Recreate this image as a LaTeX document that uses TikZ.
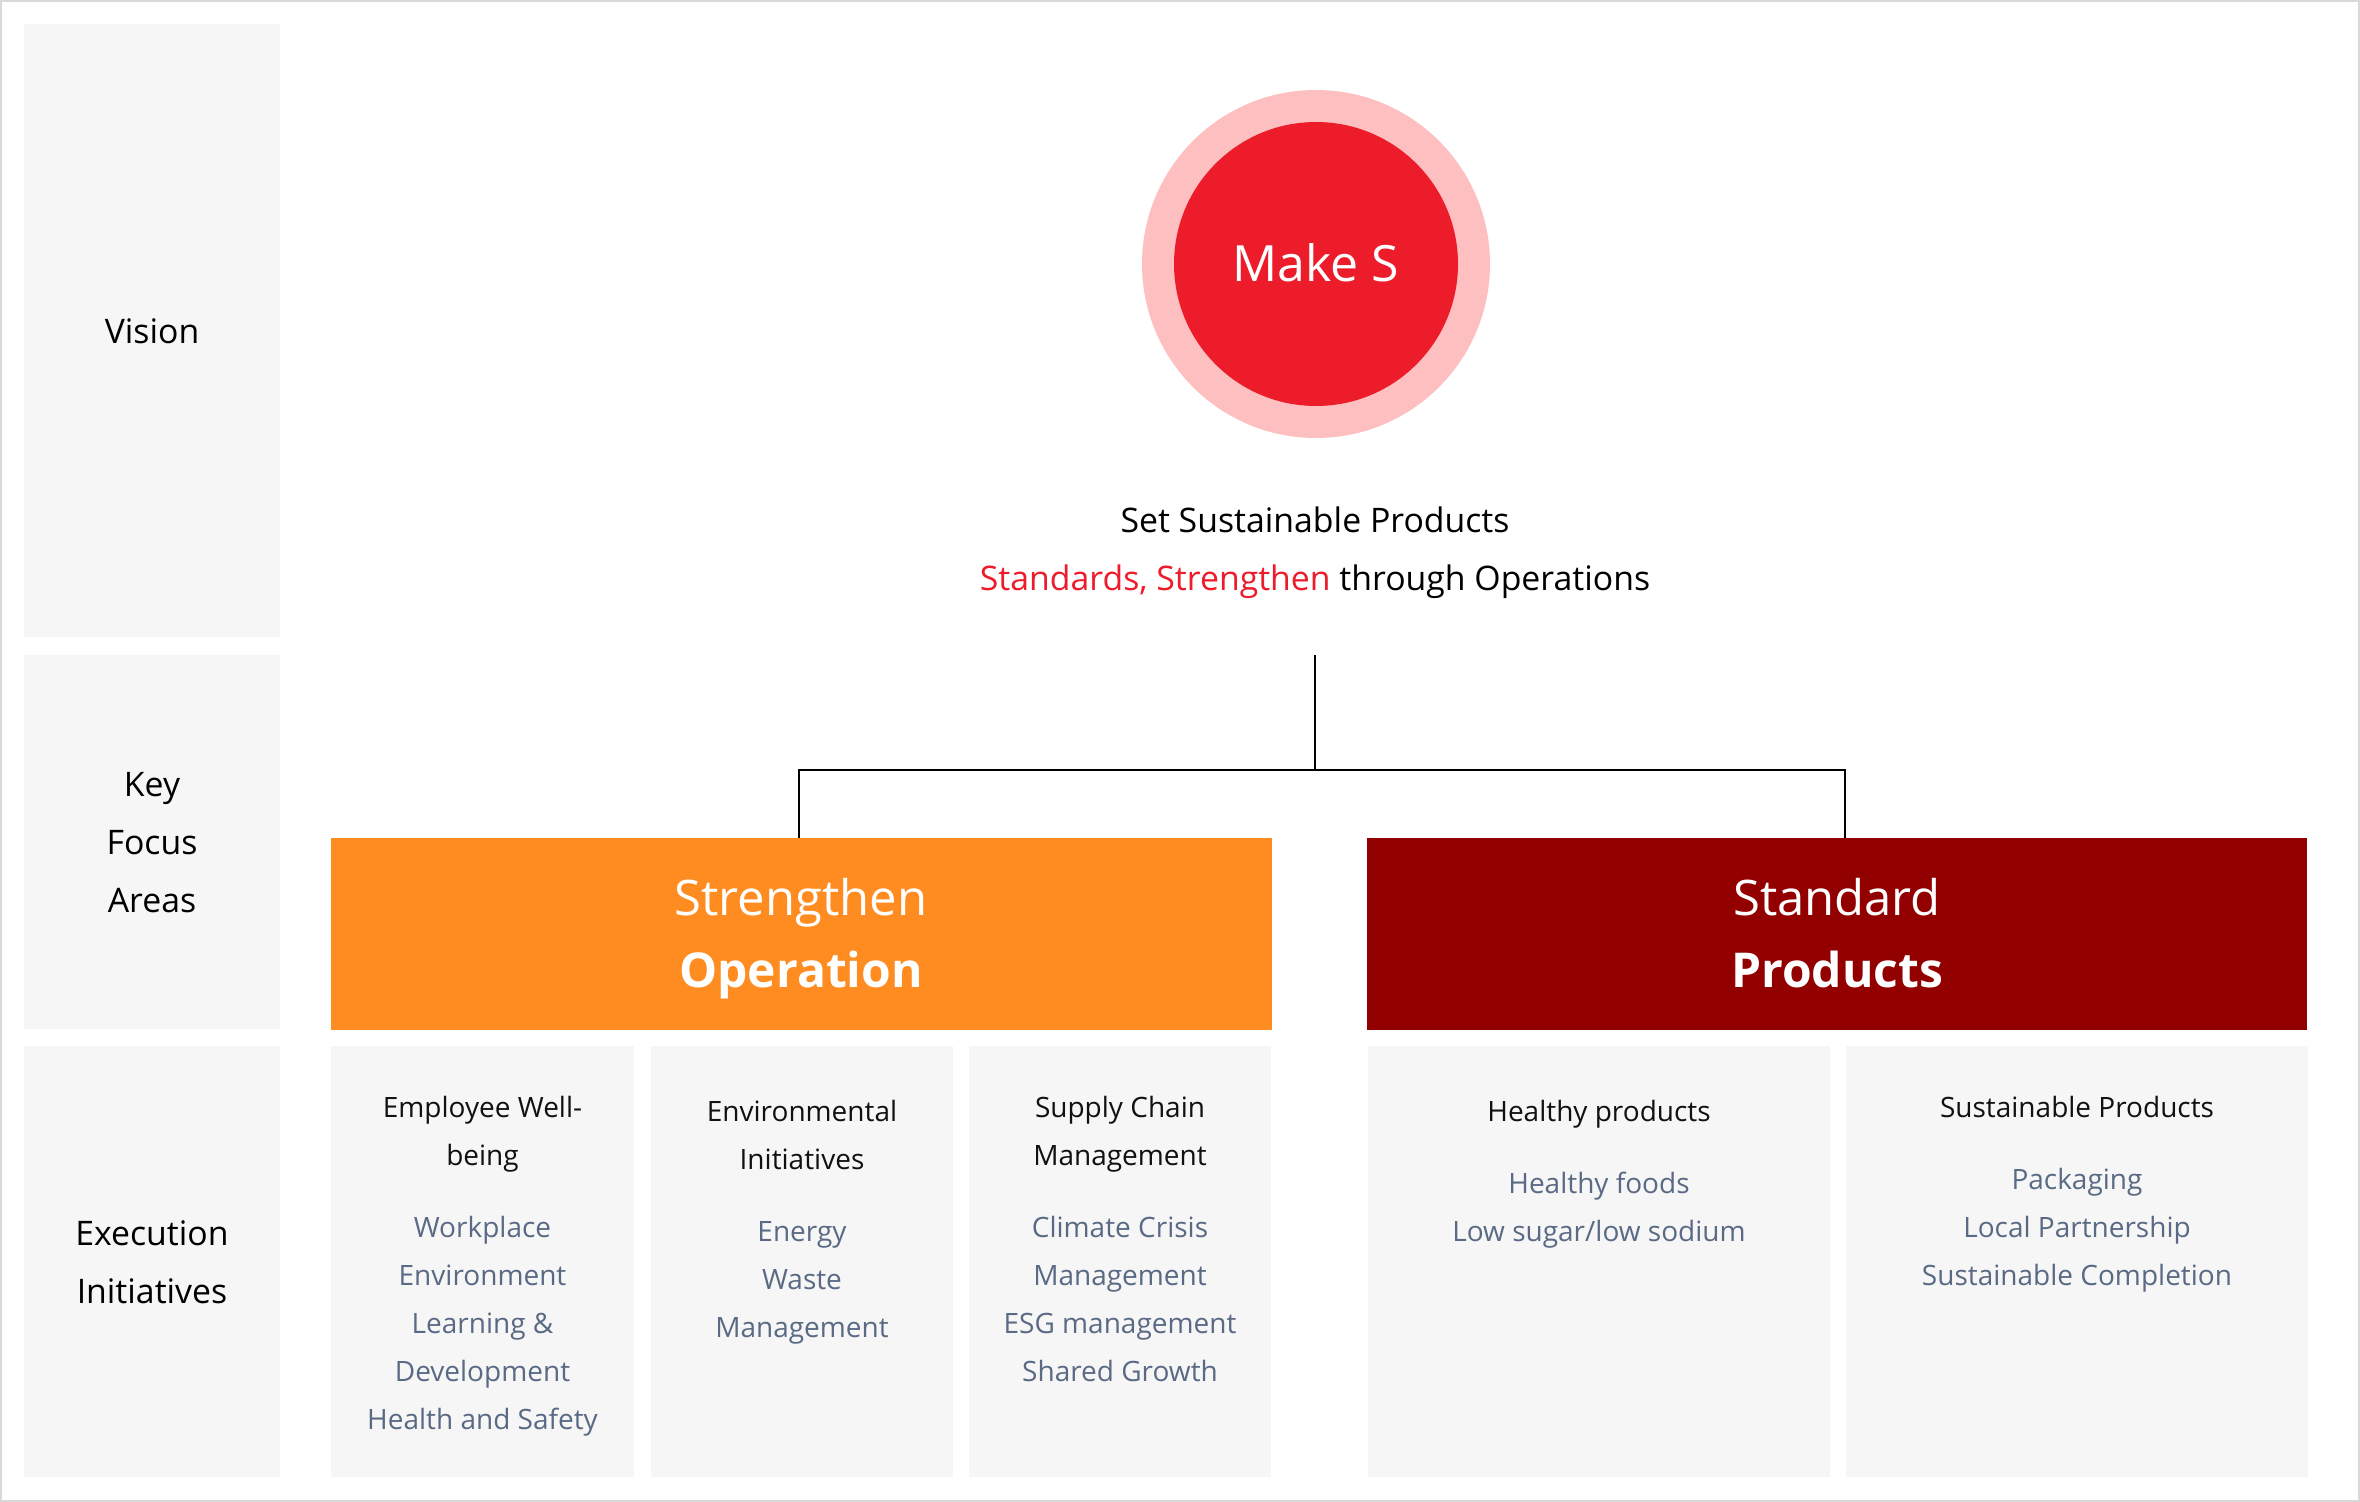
\documentclass[tikz,border=0pt]{standalone}
\usepackage{fontspec}
\setmainfont{Open Sans}
\definecolor{panelc}{HTML}{F6F6F6}
\definecolor{framec}{HTML}{D9D9D9}
\definecolor{orangec}{HTML}{FF8C21}
\definecolor{darkredc}{HTML}{920000}
\definecolor{redc}{HTML}{ED1C2B}
\definecolor{pinkc}{HTML}{FDBFBF}
\definecolor{itemc}{HTML}{5A6A85}
\definecolor{titlec}{HTML}{111111}
\begin{document}
\begin{tikzpicture}[x=0.5pt,y=-0.5pt,
  panel/.style={fill=panelc,draw=none,anchor=north west,inner sep=0},
  lbl/.style={anchor=base,inner sep=0,text=black,font=\fontsize{16.9}{20}\selectfont},
  vtxt/.style={anchor=base,inner sep=0,text=black,font=\fontsize{16.9}{20}\selectfont},
  head/.style={anchor=north west,inner sep=0,draw=none},
  hthin/.style={anchor=base,inner sep=0,text=white,font=\fontsize{24.5}{28}\selectfont},
  hbold/.style={anchor=base,inner sep=0,text=white,font=\fontsize{24}{28}\selectfont\bfseries},
  ttl/.style={anchor=base,inner sep=0,text=titlec,font=\fontsize{14}{17}\selectfont},
  itm/.style={anchor=base,inner sep=0,text=itemc,font=\fontsize{14}{17}\selectfont},
  conn/.style={draw=black,line width=1pt}]
\useasboundingbox (0,0) rectangle (2360,1502);
\fill[white] (0,0) rectangle (2360,1502);
\draw[framec,line width=1pt] (1,1) rectangle (2359,1501);

% left row labels
\node[panel,minimum width=128pt,minimum height=306.5pt] (pv) at (24,24) {};
\node[panel,minimum width=128pt,minimum height=187pt] (pk) at (24,655) {};
\node[panel,minimum width=128pt,minimum height=215.5pt] (pe) at (24,1046) {};
\node[lbl] (lv) at (152,344) {Vision};
\node[lbl] (lk1) at (152,796) {Key};
\node[lbl] (lk2) at (152,854) {Focus};
\node[lbl] (lk3) at (152,912) {Areas};
\node[lbl] (le1) at (152,1245) {Execution};
\node[lbl] (le2) at (152,1303) {Initiatives};

% vision circle
\node[circle,fill=pinkc,minimum size=174pt,inner sep=0] (outer) at (1316,264) {};
\node[circle,fill=redc,minimum size=142pt,inner sep=0] (inner) at (1316,264) {};
\node[anchor=base,inner sep=0,text=white,font=\fontsize{25}{30}\selectfont] (mk) at (1316,282) {Make S};
\node[vtxt] (v1) at (1315,533) {Set Sustainable Products};
\node[vtxt] (v2) at (1315,590) {\textcolor{redc}{Standards, Strengthen} through Operations};

% key focus areas
\node[head,fill=orangec,minimum width=470.5pt,minimum height=96pt] (sop) at (331,838) {};
\node[head,fill=darkredc,minimum width=470pt,minimum height=96pt] (spr) at (1367,838) {};
\node[hthin] (so1) at (801,915) {Strengthen};
\node[hbold] (so2) at (801,987) {Operation};
\node[hthin] (sp1) at (1837,915) {Standard};
\node[hbold] (sp2) at (1837,987) {Products};

% connectors
\coordinate (top) at (1315,655);
\coordinate (junc) at (1315,770);
\draw[conn] (top) -- (junc);
\draw[conn] ([xshift=-1.5pt]sop.north) |- (junc) -| ([xshift=4pt]spr.north);

% execution initiatives panels
\node[panel,minimum width=151.5pt,minimum height=215.5pt] (b1) at (331,1046) {};
\node[panel,minimum width=151pt,minimum height=215.5pt] (b2) at (651,1046) {};
\node[panel,minimum width=151pt,minimum height=215.5pt] (b3) at (969,1046) {};
\node[panel,minimum width=231pt,minimum height=215.5pt] (b4) at (1368,1046) {};
\node[panel,minimum width=231pt,minimum height=215.5pt] (b5) at (1846,1046) {};

\node[ttl] (t1a) at (482.5,1117) {Employee Well-};
\node[ttl] (t1b) at (482.5,1165) {being};
\node[itm] (i1a) at (482.5,1237) {Workplace};
\node[itm] (i1b) at (482.5,1285) {Environment};
\node[itm] (i1c) at (482.5,1333) {Learning \&};
\node[itm] (i1d) at (482.5,1381) {Development};
\node[itm] (i1e) at (482.5,1429) {Health and Safety};

\node[ttl] (t2a) at (802,1121) {Environmental};
\node[ttl] (t2b) at (802,1169) {Initiatives};
\node[itm] (i2a) at (802,1241) {Energy};
\node[itm] (i2b) at (802,1289) {Waste};
\node[itm] (i2c) at (802,1337) {Management};

\node[ttl] (t3a) at (1120,1117) {Supply Chain};
\node[ttl] (t3b) at (1120,1165) {Management};
\node[itm] (i3a) at (1120,1237) {Climate Crisis};
\node[itm] (i3b) at (1120,1285) {Management};
\node[itm] (i3c) at (1120,1333) {ESG management};
\node[itm] (i3d) at (1120,1381) {Shared Growth};

\node[ttl] (t4a) at (1599,1121) {Healthy products};
\node[itm] (i4a) at (1599,1193) {Healthy foods};
\node[itm] (i4b) at (1599,1241) {Low sugar/low sodium};

\node[ttl] (t5a) at (2077,1117) {Sustainable Products};
\node[itm] (i5a) at (2077,1189) {Packaging};
\node[itm] (i5b) at (2077,1237) {Local Partnership};
\node[itm] (i5c) at (2077,1285) {Sustainable Completion};
\end{tikzpicture}
\end{document}
